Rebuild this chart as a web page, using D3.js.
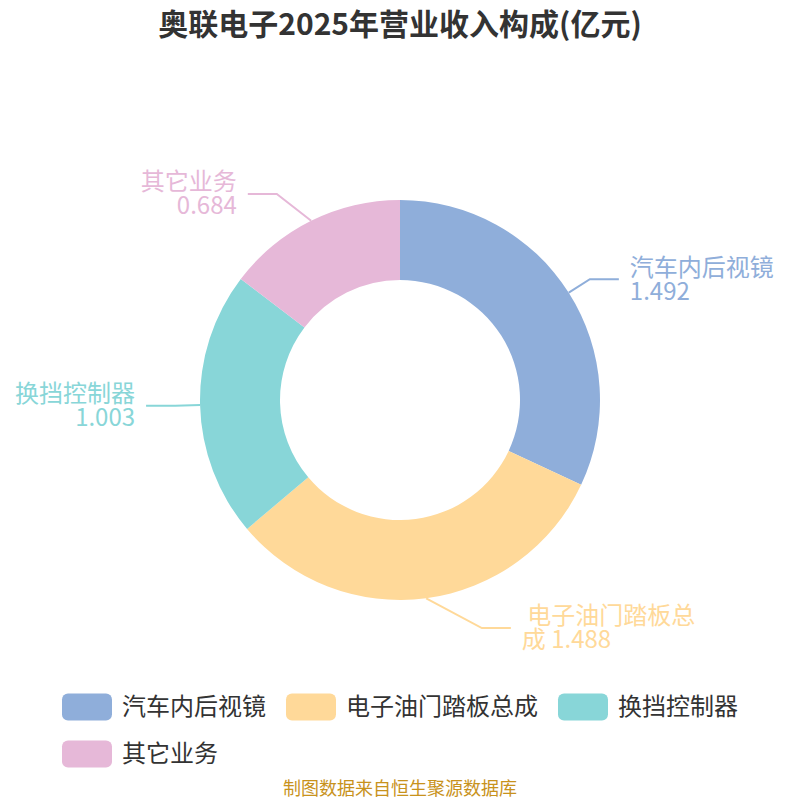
<!DOCTYPE html>
<html>
<head>
<meta charset="utf-8">
<script src="https://cdn.jsdelivr.net/npm/d3@7"></script>
<style>
  html, body { margin: 0; padding: 0; background: #fff; }
  svg { display: block; font-family: "Noto Sans CJK SC", "Noto Sans", sans-serif; }
</style>
</head>
<body>
<div id="chart"></div>
<script>
const width = 800, height = 800;

// données
const categories = ["汽车内后视镜", "电子油门踏板总成", "换挡控制器", "其它业务"];
const values = [1.492, 1.488, 1.003, 0.684];
const colors = ["#8FAEDA", "#FFD999", "#88D6D8", "#E6B8D8"];
// lignes des étiquettes (le 2e nom est coupé comme dans l'original)
const labelLines = [
  ["汽车内后视镜", "1.492"],
  [" 电子油门踏板总", "成 1.488"],
  ["换挡控制器", "1.003"],
  ["其它业务", "0.684"]
];

const title = "奥联电子2025年营业收入构成(亿元)";
const source = "制图数据来自恒生聚源数据库";

const cx = 400, cy = 400, outerR = 200, innerR = 120;

const svg = d3.select("#chart").append("svg")
  .attr("width", width)
  .attr("height", height);

// Titre
svg.append("text")
  .attr("x", width / 2)
  .attr("y", 35)
  .attr("text-anchor", "middle")
  .style("font-size", "30px")
  .style("font-weight", "bold")
  .attr("fill", "#333")
  .text(title);

const data = categories.map((c, i) => ({ name: c, value: values[i], color: colors[i], lines: labelLines[i] }));

const pie = d3.pie().sort(null).value(d => d.value);
const arcs = pie(data);
const arc = d3.arc().innerRadius(innerR).outerRadius(outerR);

const g = svg.append("g").attr("transform", `translate(${cx},${cy})`);

g.selectAll("path.slice")
  .data(arcs)
  .join("path")
  .attr("class", "slice")
  .attr("d", arc)
  .attr("fill", d => d.data.color);

// Étiquettes avec lignes (coude poussé sur une ellipse près du haut/bas)
const len1 = 25, rA = 230, rB = 244, seg = 29, gap = 11, lineH = 24;
arcs.forEach(a => {
  const mid = (a.startAngle + a.endAngle) / 2;
  const sx = Math.sin(mid), sy = -Math.cos(mid);
  const side = sx >= 0 ? 1 : -1;
  const p0 = [outerR * sx, outerR * sy];
  let p1 = [(outerR + len1) * sx, (outerR + len1) * sy];
  if (Math.abs(sy) > 0.8) {
    const ey = rA * sy;
    p1 = [side * rA * Math.sqrt(1 - (ey * ey) / (rB * rB)), ey];
  }
  const p2 = [p1[0] + side * seg, p1[1]];

  g.append("polyline")
    .attr("points", [p0, p1, p2].map(p => p.join(",")).join(" "))
    .attr("fill", "none")
    .attr("stroke", a.data.color)
    .attr("stroke-width", 2);

  const t = g.append("text")
    .attr("text-anchor", side > 0 ? "start" : "end")
    .attr("fill", a.data.color)
    .style("font-size", "24px")
    .style("white-space", "pre");
  a.data.lines.forEach((l, i) => {
    t.append("tspan")
      .attr("x", p2[0] + side * gap)
      .attr("y", p2[1] + (i - (a.data.lines.length - 1) / 2) * lineH)
      .attr("dy", "0.35em")
      .text(l);
  });
});

// Légende
const legend = svg.append("g");
let lx = 62, ly = 707;
const boxW = 50, boxH = 27, itemGap = 20;
data.forEach(d => {
  const item = legend.append("g");
  const txt = item.append("text")
    .attr("x", boxW + 10)
    .attr("y", 0)
    .attr("dy", "0.35em")
    .attr("fill", "#333")
    .style("font-size", "24px")
    .text(d.name);
  const w = boxW + 10 + txt.node().getComputedTextLength();
  if (lx + w > 760) { lx = 62; ly += 47; }
  item.attr("transform", `translate(${lx},${ly})`);
  item.insert("rect", "text")
    .attr("x", 0)
    .attr("y", -boxH / 2)
    .attr("width", boxW)
    .attr("height", boxH)
    .attr("rx", 6)
    .attr("fill", d.color);
  lx += w + itemGap;
});

// Source
svg.append("text")
  .attr("x", width / 2)
  .attr("y", 789)
  .attr("dy", "0.35em")
  .attr("text-anchor", "middle")
  .attr("fill", "#C8921C")
  .style("font-size", "18px")
  .text(source);
</script>
</body>
</html>
